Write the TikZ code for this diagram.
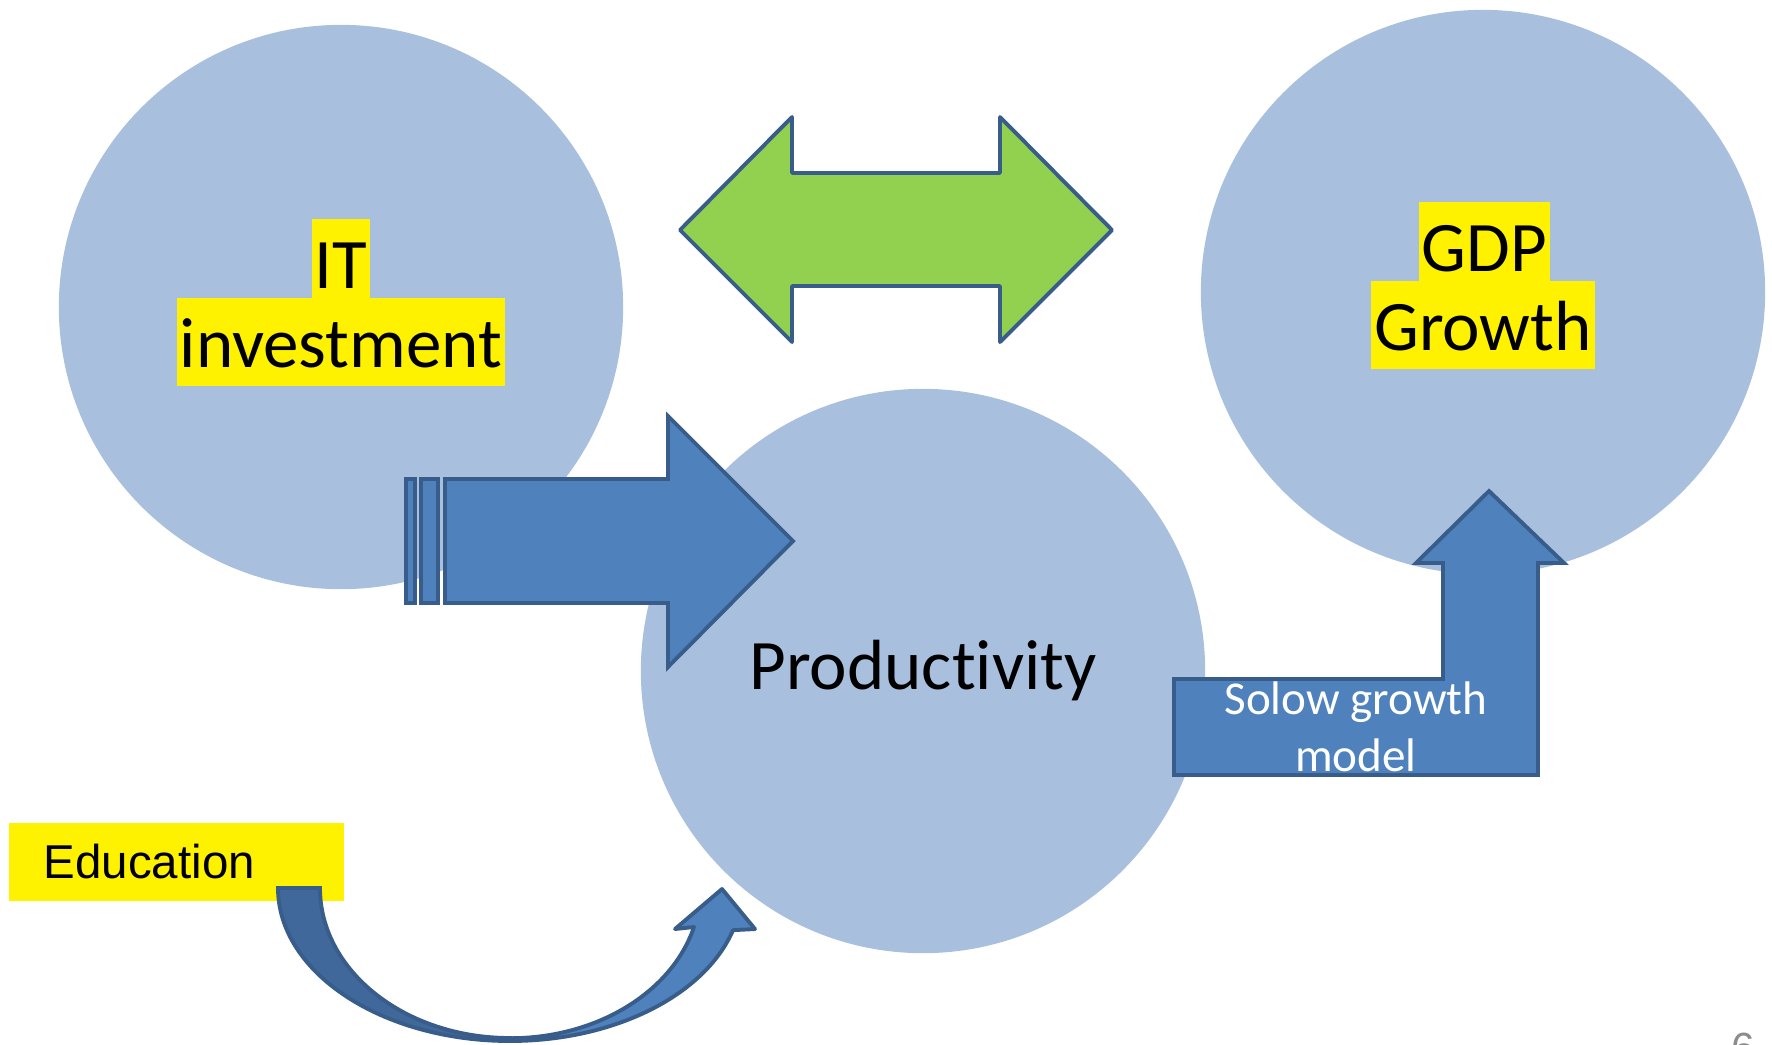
\documentclass[tikz,border=0pt]{standalone}
\usepackage{fontspec}
\setmainfont{Carlito}[Ligatures=NoCommon]
\newfontfamily\arialfont{Liberation Sans}
\definecolor{bubblecol}{RGB}{168,192,222}
\definecolor{arrowfill}{HTML}{4F81BD}
\definecolor{arrowline}{HTML}{385D8A}
\definecolor{arrowdark}{HTML}{41689A}
\definecolor{arrowgreen}{HTML}{92D050}
\definecolor{pagegray}{HTML}{8C8C8C}

\begin{document}
\begin{tikzpicture}[x=0.01cm, y=-0.01cm,
        bubble/.style={circle, fill=bubblecol, minimum size=5.64cm, inner sep=0pt},
        bigfont/.style={font=\fontsize{20.2pt}{22.5pt}\selectfont},
        hl/.style={bigfont, fill=yellow, inner ysep=0pt, inner xsep=0.03cm, text height=0.69cm, text depth=0.19cm},
        blockarrow/.style={fill=arrowfill, draw=arrowline, line width=1.1pt}]
        \useasboundingbox (0,0) rectangle (1772,1044);

        \node[bubble] (itinvest) at (341,307) {};
        \node[bubble] (gdp) at (1483,292) {};
        \node[bubble, bigfont] (productivity) at (923,671) {Productivity};

        \node[hl, anchor=base west] (itline) at (311,288) {IT\ };
        \node[hl, anchor=base] (investline) at (341,367) {investment};
        \node[hl, anchor=base west] (gdpline) at (1418,271) {GDP\ };
        \node[hl, anchor=base] (growthline) at (1483,350) {Growth};

        \draw[blockarrow, fill=arrowgreen, line join=round] (680,230) -- (792,117) -- (792,173) -- (1000,173) -- (1000,117) -- (1112,230) -- (1000,342) -- (1000,286) -- (792,286) -- (792,342) -- cycle;

        \draw[blockarrow, line width=1pt] (406,479) rectangle (415,603);
        \draw[blockarrow, line width=1pt] (421,479) rectangle (438,603);
        \draw[blockarrow] (445,479) -- (668,479) -- (668,416) -- (793,541) -- (668,667) -- (668,603) -- (445,603) -- cycle;

        \draw[blockarrow] (1174,775) -- (1174,679) -- (1443,679) -- (1443,563) -- (1416,563) -- (1489,491) -- (1564,563) -- (1538,563) -- (1538,775) -- cycle;
        \node[text=white, align=center, inner sep=0pt, font=\fontsize{13.4pt}{16.2pt}\selectfont] (solowlabel) at (1356,727) {Solow growth\\model};

        \node[fill=yellow, anchor=north west, minimum height=0.78cm, text width=2.65cm, inner xsep=0.35cm, inner ysep=0pt, align=left, font=\arialfont\fontsize{13.5pt}{16pt}\selectfont] (education) at (8,822) {Education};

        \draw[blockarrow, fill=arrowdark] (278,888) arc[start angle=180, end angle=90, x radius=232, y radius=153] -- (510,1038) arc[start angle=90, end angle=180, x radius=190, y radius=150] -- cycle;
        \draw[blockarrow, line join=round] (510,1041) arc[start angle=90, end angle=16, x radius=232, y radius=153] -- (755,929) -- (722,889) -- (675,929) -- (694,927) arc[start angle=15, end angle=90, x radius=190, y radius=150] -- cycle;

        \node[anchor=north west, inner sep=0pt, text=pagegray, font=\arialfont\fontsize{12pt}{14pt}\selectfont] (pagenum) at (1731,1032) {6};
    \end{tikzpicture}
\end{document}
